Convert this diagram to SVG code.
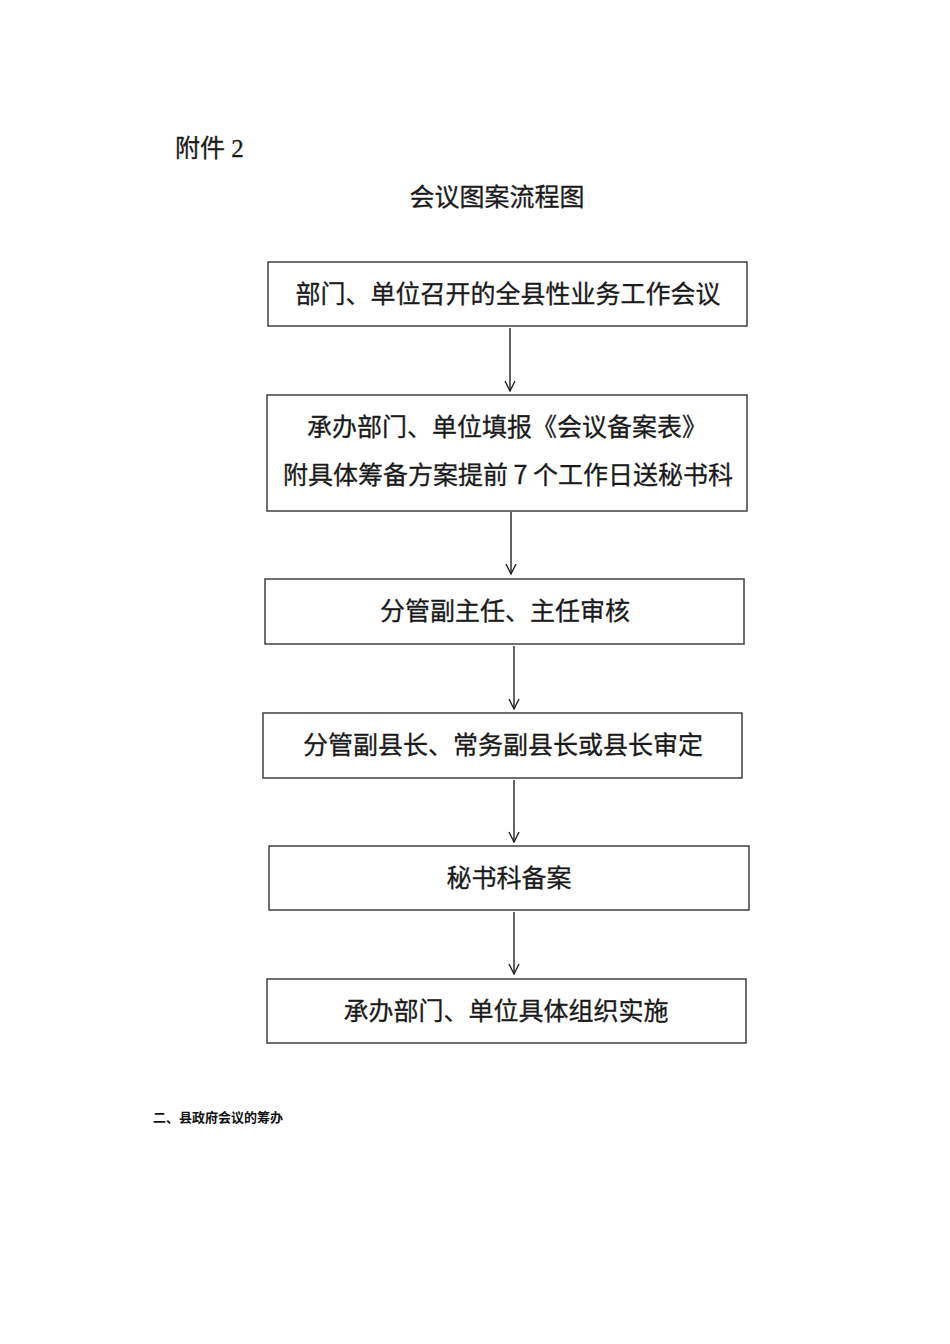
<svg xmlns="http://www.w3.org/2000/svg" width="950" height="1344" viewBox="0 0 950 1344">
<style>
.box{fill:#fff;stroke:#333;stroke-width:1.4}
.t{font-family:"Noto Sans CJK SC","Noto Sans",sans-serif;font-size:25px;fill:#1a1a1a;stroke:#1a1a1a;stroke-width:0.3;text-anchor:middle;dominant-baseline:central}
.c{stroke:#222;stroke-width:1.4;fill:none}
</style>
<defs>
<marker id="ah" viewBox="0 0 12 12" refX="11" refY="6" markerWidth="12" markerHeight="12" markerUnits="userSpaceOnUse" orient="auto">
<path d="M1,1 L11,6 L1,11" fill="none" stroke="#222" stroke-width="1.4"/>
</marker>
</defs>
<rect width="950" height="1344" fill="#fff"/>
<text x="175" y="148" style="font-family:'Liberation Serif','Noto Sans CJK SC',serif;font-size:25px;fill:#1a1a1a;stroke:#1a1a1a;stroke-width:0.3;dominant-baseline:central">附件 2</text>
<text x="497" y="195" class="t">会议图案流程图</text>
<g id="n1"><rect class="box" x="268" y="262" width="479" height="64"/><text class="t" x="508" y="292">部门、单位召开的全县性业务工作会议</text></g>
<g id="n2"><rect class="box" x="267" y="395" width="480" height="116"/><text class="t" x="507" y="425">承办部门、单位填报《会议备案表》</text><text class="t" x="508" y="473">附具体筹备方案提前 7 个工作日送秘书科</text></g>
<g id="n3"><rect class="box" x="265" y="579" width="479" height="65"/><text class="t" x="505" y="609">分管副主任、主任审核</text></g>
<g id="n4"><rect class="box" x="263" y="713" width="479" height="65"/><text class="t" x="503" y="743">分管副县长、常务副县长或县长审定</text></g>
<g id="n5"><rect class="box" x="269" y="846" width="480" height="64"/><text class="t" x="509" y="876">秘书科备案</text></g>
<g id="n6"><rect class="box" x="267" y="979" width="479" height="64"/><text class="t" x="506" y="1009">承办部门、单位具体组织实施</text></g>
<g id="connectors">
<line class="c" x1="510" y1="328" x2="510" y2="391" marker-end="url(#ah)"/>
<line class="c" x1="511" y1="512" x2="511" y2="574" marker-end="url(#ah)"/>
<line class="c" x1="514" y1="646" x2="514" y2="709" marker-end="url(#ah)"/>
<line class="c" x1="514" y1="780" x2="514" y2="842" marker-end="url(#ah)"/>
<line class="c" x1="514" y1="912" x2="514" y2="974" marker-end="url(#ah)"/>
</g>
<text x="153" y="1116" style="font-family:'Noto Sans CJK SC',sans-serif;font-size:13px;font-weight:bold;fill:#111;dominant-baseline:central">二、县政府会议的筹办</text>
</svg>
